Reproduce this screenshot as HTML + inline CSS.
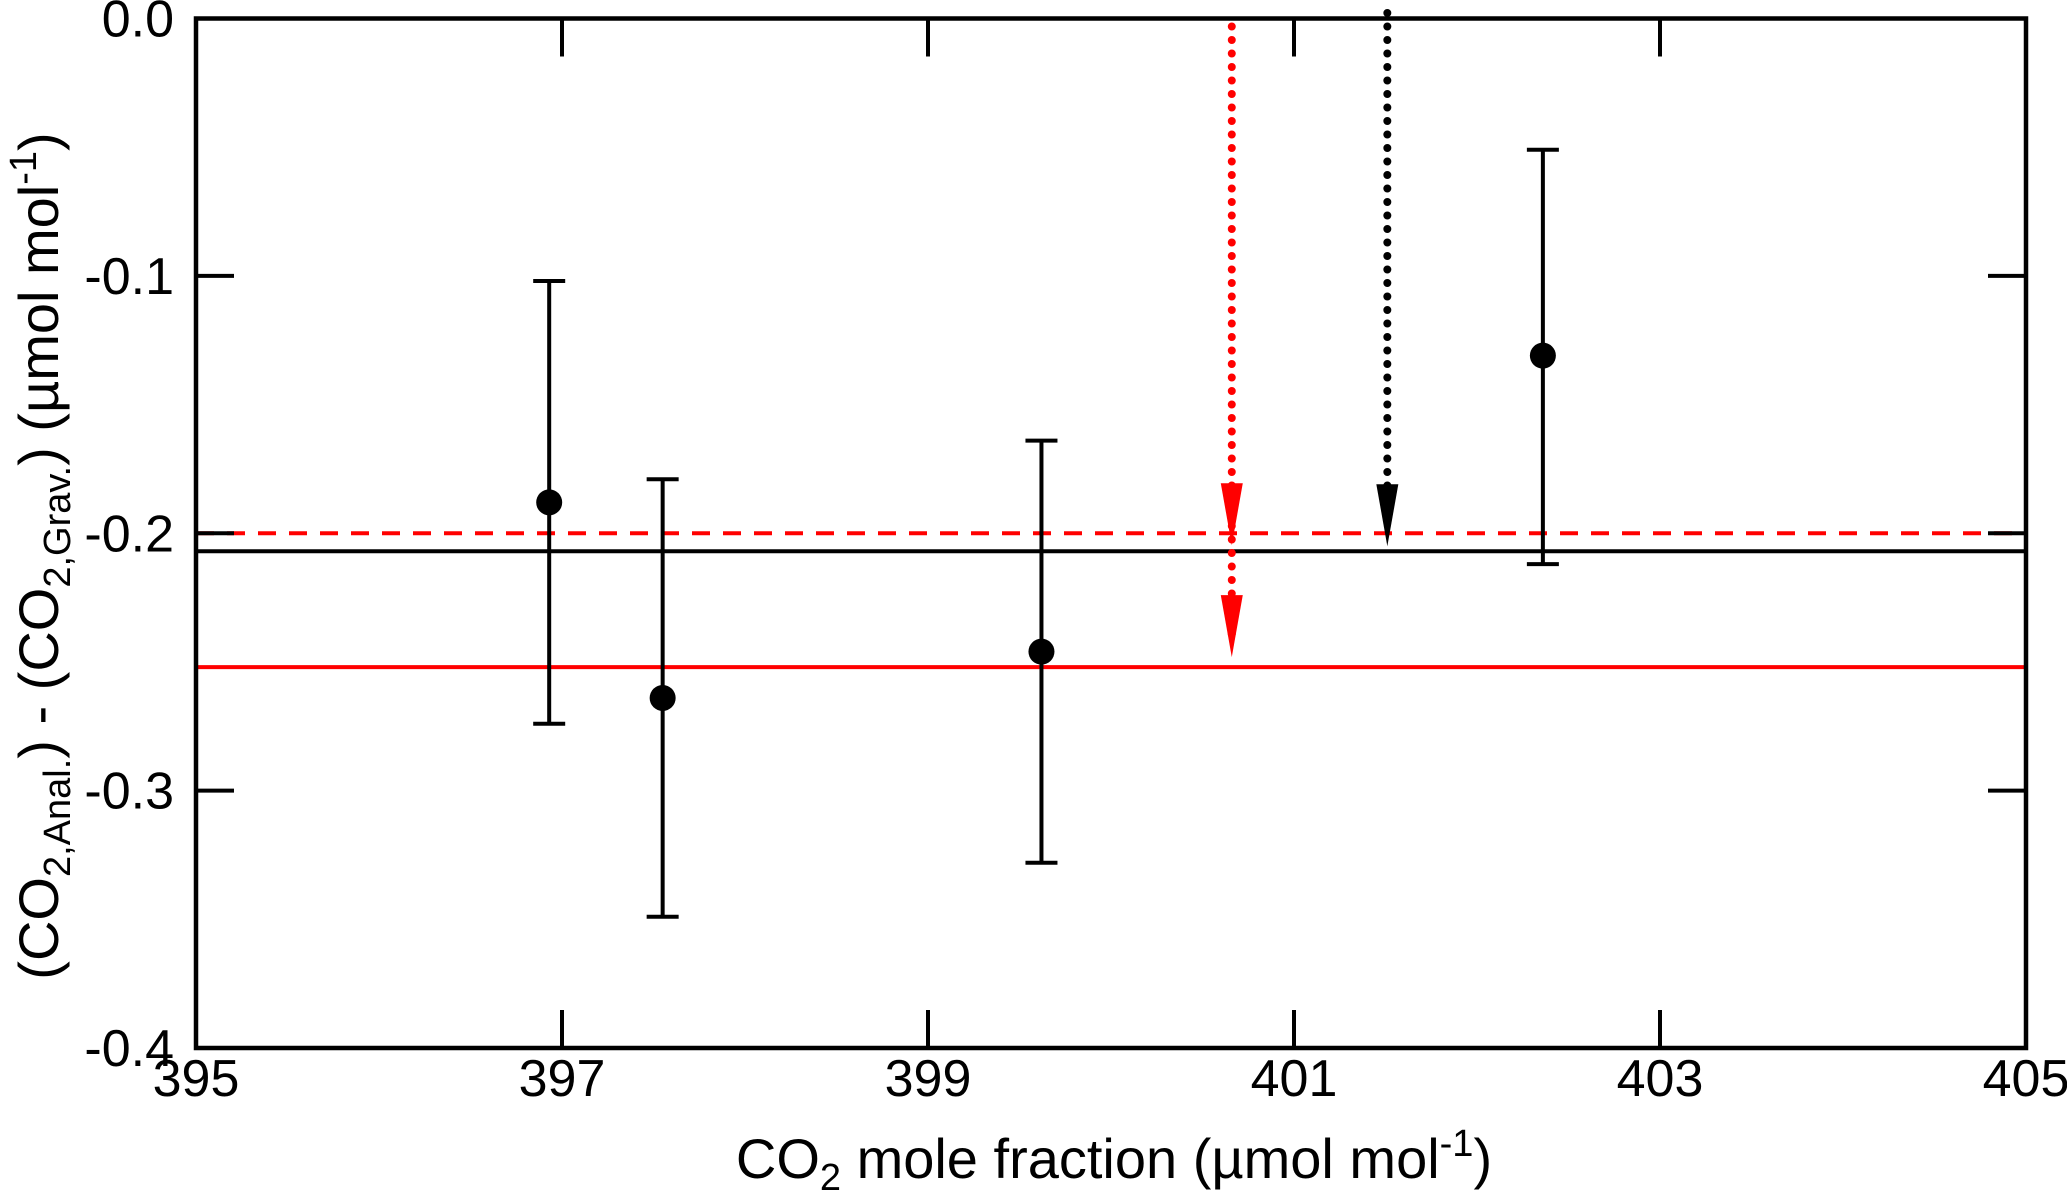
<!DOCTYPE html>
<html><head><meta charset="utf-8"><style>
body{margin:0;background:#fff}
svg{display:block;font-family:"Liberation Sans",Arial,sans-serif}
</style></head><body>
<svg id="c" width="2067" height="1194" viewBox="0 0 2067 1194"></svg>
<script>
const xs=[396.93,397.55,399.62,402.36];
const ys=[-0.188,-0.264,-0.246,-0.131];
const errHi=[-0.102,-0.179,-0.164,-0.051];
const errLo=[-0.274,-0.349,-0.328,-0.212];
const xTicks=[395,397,399,401,403,405];
const yTicks=[0.0,-0.1,-0.2,-0.3,-0.4];
const yTickLabels=["0.0","-0.1","-0.2","-0.3","-0.4"];
const refRedDashed=-0.2, refBlack=-0.207, refRed=-0.252;
const arrowRedX=400.66, arrowBlackX=401.51;
const L=196,R=2026,T=18.5,B=1048;
const X=v=>L+(v-395)/10*(R-L);
const Y=v=>T+(0-v)/0.4*(B-T);
const svg=document.getElementById('c');const NS='http://www.w3.org/2000/svg';
function mk(t,a,p){const e=document.createElementNS(NS,t);for(const k in a)e.setAttribute(k,a[k]);(p||svg).appendChild(e);return e;}
let e;
e=mk('line',{x1:L,x2:R,y1:Y(refRedDashed),y2:Y(refRedDashed),stroke:'#f00','stroke-width':4,'stroke-dasharray':'18 13'});

e=mk('line',{x1:L,x2:R,y1:Y(refBlack),y2:Y(refBlack),stroke:'#000','stroke-width':4});

e=mk('line',{x1:L,x2:R,y1:Y(refRed),y2:Y(refRed),stroke:'#f00','stroke-width':4});

function arrowHead(x,tipY,col){return mk('polygon',{points:`${x-11},${tipY-62} ${x+11},${tipY-62} ${x},${tipY}`,fill:col});}
e=mk('line',{x1:X(arrowRedX),x2:X(arrowRedX),y1:T+8,y2:Y(refRed)-20,stroke:'#f00','stroke-width':8,'stroke-dasharray':'0 13.5','stroke-linecap':'round'});

e=arrowHead(X(arrowRedX),Y(refRedDashed)+12,'#f00');

e=arrowHead(X(arrowRedX),Y(refRed)-10,'#f00');

e=mk('line',{x1:X(arrowBlackX),x2:X(arrowBlackX),y1:13,y2:Y(refRedDashed)-40,stroke:'#000','stroke-width':8,'stroke-dasharray':'0 13.5','stroke-linecap':'round'});

e=arrowHead(X(arrowBlackX),Y(refRedDashed)+13,'#000');

for(let i=0;i<xs.length;i++){
 const g=mk('g',{});
 
 
 const x=X(xs[i]);
 mk('line',{x1:x,x2:x,y1:Y(errHi[i]),y2:Y(errLo[i]),stroke:'#000','stroke-width':4},g);
 mk('line',{x1:x-16,x2:x+16,y1:Y(errHi[i]),y2:Y(errHi[i]),stroke:'#000','stroke-width':4},g);
 mk('line',{x1:x-16,x2:x+16,y1:Y(errLo[i]),y2:Y(errLo[i]),stroke:'#000','stroke-width':4},g);
 mk('circle',{cx:x,cy:Y(ys[i]),r:13,fill:'#000'},g);
}
e=mk('rect',{x:L,y:T,width:R-L,height:B-T,fill:'none',stroke:'#000','stroke-width':4.5});

xTicks.forEach(v=>{const x=X(v);
 if(v>395&&v<405){mk('line',{x1:x,x2:x,y1:B,y2:B-38,stroke:'#000','stroke-width':4});mk('line',{x1:x,x2:x,y1:T,y2:T+38,stroke:'#000','stroke-width':4});}
 const t=mk('text',{x:x,y:1096,'font-size':52,'text-anchor':'middle'});t.textContent=v;
 
});
yTicks.forEach((v,i)=>{const y=Y(v);
 if(i>0&&i<yTicks.length-1){mk('line',{x1:L,x2:L+38,y1:y,y2:y,stroke:'#000','stroke-width':4});mk('line',{x1:R,x2:R-38,y1:y,y2:y,stroke:'#000','stroke-width':4});}
 const t=mk('text',{x:174,y:y+18,'font-size':52,'text-anchor':'end'});t.textContent=yTickLabels[i];
 
});
</script>
<svg style="position:absolute;left:0;top:0" width="2067" height="1194">
<text x="1114" y="1178" font-size="56" text-anchor="middle" font-family="Liberation Sans, sans-serif">CO<tspan font-size="38" dy="12">2</tspan><tspan dy="-12"> mole fraction (µmol mol</tspan><tspan font-size="38" dy="-22">-1</tspan><tspan dy="22">)</tspan></text>
<text transform="translate(58,556) rotate(-90)" font-size="56" text-anchor="middle" font-family="Liberation Sans, sans-serif">(CO<tspan font-size="38" dy="12">2,Anal.</tspan><tspan dy="-12">) - (CO</tspan><tspan font-size="38" dy="12">2,Grav.</tspan><tspan dy="-12">) (µmol mol</tspan><tspan font-size="38" dy="-22">-1</tspan><tspan dy="22">)</tspan></text>
</svg>
</body></html>
